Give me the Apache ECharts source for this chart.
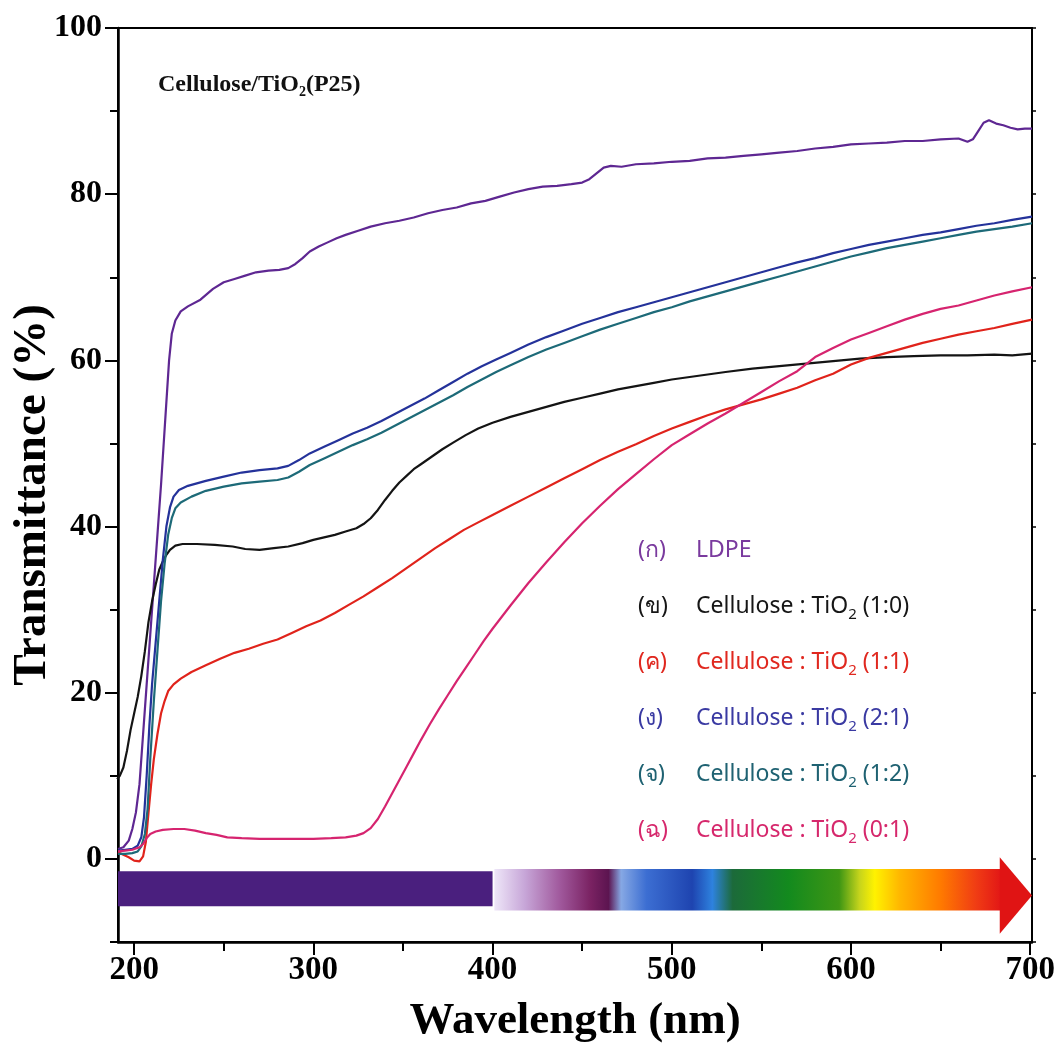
<!DOCTYPE html>
<html>
<head>
<meta charset="utf-8">
<title>UV-Vis transmittance — Cellulose/TiO2 (P25)</title>
<script src="https://cdn.jsdelivr.net/npm/echarts@6/dist/echarts.min.js"></script>
<style>
  html, body { margin: 0; padding: 0; background: #ffffff; }
  #chart { width: 1059px; height: 1046px; }
</style>
</head>
<body>
<div id="chart"></div>
<script>
// ---- Transmittance spectra: [wavelength (nm), transmittance (%)] ----
const ldpe = [
  [191,1.2],[194,1.4],[197,2.2],[199,3.6],[201,5.6],[203,9],[205,15],[207,21],[209,27],[211,33],
  [213,39],[215,45],[216.5,50],[218,55],[219.5,60],[221,63.2],[223,64.8],[226,65.9],[230,66.5],
  [237,67.3],[244,68.6],[250,69.4],[256,69.8],[262,70.2],[268,70.6],[275,70.8],[281,70.9],[286,71.1],
  [290,71.6],[294,72.3],[298,73.1],[303,73.7],[308,74.2],[313,74.7],[318,75.1],[325,75.6],[332,76.1],
  [340,76.5],[348,76.8],[356,77.2],[364,77.7],[372,78.1],[380,78.4],[388,78.9],[396,79.2],[404,79.7],
  [412,80.2],[420,80.6],[428,80.9],[436,81.0],[444,81.2],[450,81.4],[454,81.8],[458,82.5],[462,83.2],
  [466,83.4],[472,83.3],[480,83.6],[490,83.7],[500,83.9],[510,84.0],[520,84.3],[530,84.4],[540,84.6],
  [550,84.8],[560,85.0],[570,85.2],[580,85.5],[590,85.7],[600,86.0],[610,86.1],[620,86.2],[630,86.4],
  [640,86.4],[650,86.6],[660,86.7],[665,86.3],[668,86.6],[671,87.6],[674,88.6],[677,88.9],[681,88.5],
  [685,88.3],[689,88.0],[693,87.8],[697,87.9],[701,87.9]
];

const cel10 = [
  [190.5,9.6],[192,10],[194,11],[196,13],[198,15.5],[200,17.5],[202,19.5],[204,22],[206,25],[208,28.5],
  [210,31],[212,33],[214,34.8],[216,35.8],[218,36.6],[220,37.2],[223,37.7],[227,37.9],[235,37.9],
  [245,37.8],[255,37.6],[262,37.3],[270,37.2],[278,37.4],[286,37.6],[294,38],[300,38.4],[306,38.7],
  [312,39],[318,39.4],[324,39.8],[328,40.3],[332,41],[336,42],[340,43.2],[344,44.3],[348,45.3],
  [352,46.1],[356,46.9],[360,47.5],[366,48.4],[372,49.3],[378,50.1],[385,51],[392,51.8],[400,52.5],
  [410,53.2],[420,53.8],[430,54.4],[440,55],[450,55.5],[460,56],[470,56.5],[480,56.9],[490,57.3],
  [500,57.7],[510,58],[520,58.3],[530,58.6],[545,59],[560,59.3],[575,59.6],[590,59.9],[605,60.2],
  [620,60.4],[635,60.5],[650,60.6],[665,60.6],[680,60.7],[690,60.6],[701,60.8]
];

const cel11 = [
  [191,0.8],[194,0.5],[197,0.2],[200,-0.2],[203,-0.3],[205,0.3],[206.5,2],[208,5.5],[209.5,9],[211,12],
  [213,15],[215,17.5],[217,19],[219,20.2],[222,21],[226,21.7],[232,22.5],[240,23.3],[248,24.1],
  [256,24.8],[264,25.3],[272,25.9],[280,26.4],[288,27.2],[296,28],[304,28.7],[312,29.6],[320,30.6],
  [328,31.6],[336,32.7],[344,33.8],[352,35],[360,36.2],[368,37.4],[376,38.5],[384,39.6],[392,40.5],
  [400,41.4],[410,42.5],[420,43.6],[430,44.7],[440,45.8],[450,46.9],[460,48],[470,49],[480,49.9],
  [490,50.9],[500,51.8],[510,52.6],[520,53.4],[530,54.1],[540,54.7],[550,55.3],[560,56],[570,56.7],
  [580,57.6],[590,58.4],[600,59.5],[610,60.3],[620,60.9],[630,61.5],[640,62.1],[650,62.6],[660,63.1],
  [670,63.5],[680,63.9],[690,64.4],[701,64.9]
];

const cel21 = [
  [191,1],[195,1.1],[199,1.2],[202,1.6],[204,2.6],[205.5,5],[207,10],[208.5,16],[210,21],[212,26],
  [214,31],[216,36],[218,40],[220,42.3],[222,43.6],[225,44.4],[230,44.9],[240,45.5],[250,46],[260,46.5],
  [270,46.8],[280,47],[286,47.3],[292,48],[298,48.8],[306,49.6],[314,50.4],[322,51.2],[330,51.9],
  [338,52.7],[346,53.6],[354,54.5],[362,55.4],[370,56.4],[378,57.4],[386,58.4],[394,59.3],[402,60.1],
  [410,60.9],[420,61.9],[430,62.8],[440,63.6],[450,64.4],[460,65.1],[470,65.8],[480,66.4],[490,67],
  [500,67.6],[510,68.2],[520,68.8],[530,69.4],[540,70],[550,70.6],[560,71.2],[570,71.8],[580,72.3],
  [590,72.9],[600,73.4],[610,73.9],[620,74.3],[630,74.7],[640,75.1],[650,75.4],[660,75.8],[670,76.2],
  [680,76.5],[690,76.9],[701,77.3]
];

const cel12 = [
  [191,0.6],[195,0.6],[199,0.7],[202,0.9],[204,1.5],[206,3],[207.5,6],[209,12],[211,19],[213,25],
  [215,31],[217,35.5],[219,39],[221,41],[223,42.2],[226,42.9],[232,43.6],[240,44.3],[250,44.8],
  [260,45.2],[270,45.4],[280,45.6],[286,45.9],[292,46.6],[298,47.4],[306,48.2],[314,49],[322,49.8],
  [330,50.5],[338,51.3],[346,52.2],[354,53.1],[362,54],[370,54.9],[378,55.8],[386,56.8],[394,57.7],
  [402,58.6],[410,59.4],[420,60.4],[430,61.3],[440,62.1],[450,62.9],[460,63.7],[470,64.4],[480,65.1],
  [490,65.8],[500,66.4],[510,67.1],[520,67.7],[530,68.3],[540,68.9],[550,69.5],[560,70.1],[570,70.7],
  [580,71.3],[590,71.9],[600,72.5],[610,73],[620,73.5],[630,73.9],[640,74.3],[650,74.7],[660,75.1],
  [670,75.5],[680,75.8],[690,76.1],[701,76.5]
];

const cel01 = [
  [191,0.9],[195,1],[199,1.1],[203,1.4],[205,1.8],[207,2.5],[209,3],[212,3.3],[216,3.5],[222,3.6],
  [228,3.6],[234,3.4],[240,3.1],[246,2.9],[252,2.6],[260,2.5],[270,2.4],[280,2.4],[290,2.4],[300,2.4],
  [310,2.5],[318,2.6],[324,2.8],[328,3.1],[332,3.7],[336,4.8],[340,6.3],[344,7.9],[348,9.5],[352,11.1],
  [356,12.7],[360,14.3],[365,16.2],[370,18],[375,19.7],[380,21.4],[385,23],[390,24.6],[395,26.2],
  [400,27.7],[410,30.5],[420,33.2],[430,35.7],[440,38.1],[450,40.4],[460,42.5],[470,44.5],[480,46.3],
  [490,48.1],[500,49.8],[510,51.1],[520,52.4],[530,53.6],[540,54.9],[550,56.2],[560,57.5],[570,58.7],
  [580,60.4],[590,61.5],[600,62.5],[610,63.3],[620,64.1],[630,64.9],[640,65.6],[650,66.2],[660,66.6],
  [670,67.2],[680,67.8],[690,68.3],[701,68.8]
];

// ---- Series names, legend markers and colours ----
const seriesNames = [
  'LDPE',
  'Cellulose : TiO2 (1:0)',
  'Cellulose : TiO2 (1:1)',
  'Cellulose : TiO2 (2:1)',
  'Cellulose : TiO2 (1:2)',
  'Cellulose : TiO2 (0:1)'
];
const legendMarks = ['(ก)', '(ข)', '(ค)', '(ง)', '(จ)', '(ฉ)'];
const seriesData = [ldpe, cel10, cel11, cel21, cel12, cel01];
const lineColors = ['#5e2792', '#141414', '#e0231b', '#24329a', '#1d6a78', '#d6246f'];
const legendColors = ['#7a3a9e', '#161616', '#e0281f', '#3a3aa2', '#1f6272', '#d6286c'];

// ---- Axis ticks and labels ----
const xMajorTicks = [200, 300, 400, 500, 600, 700];
const xMinorTicks = [250, 350, 450, 550, 650];
const yMajorTicks = [0, 20, 40, 60, 80, 100];
const yMinorTicks = [-10, 10, 30, 50, 70, 90];

// ---- Light-spectrum band under the curves (UV block, visible gradient, arrow) ----
const uvBand = { from: 191, to: 400, top: -1.5, bottom: -5.7 };
const visBand = { from: 401, to: 684, top: -1.2, bottom: -6.2 };
const arrowHead = { from: 683, tip: 701, top: 0.2, bottom: -9.0 };
const visStops = [
  [0.00, '#eee6f8'], [0.06, '#c7a6d8'], [0.13, '#a0589c'], [0.19, '#7a2262'],
  [0.225, '#5c1450'], [0.25, '#86a8e4'], [0.30, '#3c6ed2'], [0.39, '#1e44b0'],
  [0.43, '#2e82de'], [0.47, '#1c6a3a'], [0.58, '#138a1e'], [0.68, '#3e9614'],
  [0.72, '#c6d41c'], [0.75, '#fff200'], [0.80, '#ffb600'], [0.88, '#ff7a00'],
  [0.95, '#f03c14'], [1.00, '#e21616']
];

const serif = '"Liberation Serif", "Times New Roman", serif';
const sans = '"Noto Sans", "DejaVu Sans", sans-serif';

const chart = echarts.init(document.getElementById('chart'), null, { renderer: 'canvas' });

function spectrumBand(params, api) {
  const p = (x, y) => api.coord([x, y]);
  const g0 = p(visBand.from, 0), g1 = p(visBand.to, 0);
  const fill = new echarts.graphic.LinearGradient(
    g0[0], 0, g1[0], 0,
    visStops.map(s => ({ offset: s[0], color: s[1] })), true
  );
  return {
    type: 'group',
    children: [
      { type: 'polygon', shape: { points: [p(uvBand.from, uvBand.top), p(uvBand.to, uvBand.top), p(uvBand.to, uvBand.bottom), p(uvBand.from, uvBand.bottom)] },
        style: { fill: '#4a1f7e' } },
      { type: 'polygon', shape: { points: [p(visBand.from, visBand.top), p(visBand.to, visBand.top), p(visBand.to, visBand.bottom), p(visBand.from, visBand.bottom)] },
        style: { fill: fill } },
      { type: 'polygon', shape: { points: [p(arrowHead.from, arrowHead.top), p(arrowHead.tip, (arrowHead.top + arrowHead.bottom) / 2), p(arrowHead.from, arrowHead.bottom)] },
        style: { fill: '#e01414' } }
    ]
  };
}

const lineSeries = seriesNames.map((name, i) => ({
  name: name,
  type: 'line',
  data: seriesData[i],
  showSymbol: false,
  symbol: 'none',
  smooth: false,
  lineStyle: { color: lineColors[i], width: 2.2 },
  itemStyle: { color: lineColors[i] },
  z: 3,
  animation: false
}));

const option = {
  backgroundColor: '#ffffff',
  animation: false,
  title: {
    text: 'Cellulose/TiO{s|2}(P25)',
    left: 153,
    top: 66,
    textStyle: {
      fontFamily: serif, fontWeight: 'bold', fontSize: 24, color: '#111', lineHeight: 28,
      rich: { s: { fontFamily: serif, fontWeight: 'bold', fontSize: 14, lineHeight: 14, verticalAlign: 'bottom', color: '#111' } }
    }
  },
  legend: {
    orient: 'vertical',
    left: 628,
    top: 530,
    itemWidth: 0,
    itemHeight: 0,
    itemGap: 25,
    icon: 'rect',
    selectedMode: false,
    data: seriesNames.map((n, i) => ({ name: n, textStyle: { color: legendColors[i] } })),
    formatter: function (name) {
      const i = seriesNames.indexOf(name);
      return '{m|' + legendMarks[i] + '}' + name.replace('TiO2', 'TiO{s|2}');
    },
    textStyle: {
      fontFamily: sans, fontSize: 23, lineHeight: 31,
      rich: {
        m: { fontFamily: sans, fontSize: 23, width: 58 },
        s: { fontFamily: sans, fontSize: 15, lineHeight: 15, verticalAlign: 'bottom' }
      }
    }
  },
  grid: {
    left: 118, right: 27, top: 28, bottom: 104,
    outerBoundsMode: 'none',
    containLabel: false,
    show: true, borderColor: '#000', borderWidth: 2, backgroundColor: 'transparent'
  },
  xAxis: [
    {
      type: 'value', min: 191, max: 701, position: 'bottom',
      name: 'Wavelength (nm)', nameLocation: 'middle', nameGap: 57,
      nameTextStyle: { fontFamily: serif, fontWeight: 'bold', fontSize: 45, color: '#000' },
      axisLine: { show: true, onZero: false, lineStyle: { color: '#000', width: 2.5 } },
      axisTick: { show: true, customValues: xMajorTicks, length: 13, lineStyle: { color: '#000', width: 2 } },
      axisLabel: { show: true, customValues: xMajorTicks, margin: 12, fontFamily: serif, fontWeight: 'bold', fontSize: 33, color: '#000' },
      splitLine: { show: false }
    },
    {
      type: 'value', min: 191, max: 701, position: 'bottom',
      axisLine: { show: false, onZero: false },
      axisTick: { show: true, customValues: xMinorTicks, length: 9, lineStyle: { color: '#000', width: 2 } },
      axisLabel: { show: false },
      splitLine: { show: false }
    }
  ],
  yAxis: [
    {
      type: 'value', min: -10, max: 100, position: 'left',
      name: 'Transmittance (%)', nameLocation: 'middle', nameGap: 62, nameRotate: 90,
      nameMoveOverlap: false,
      nameTextStyle: { fontFamily: serif, fontWeight: 'bold', fontSize: 47, color: '#000', padding: [0, 20, 0, 0] },
      axisLine: { show: true, onZero: false, lineStyle: { color: '#000', width: 2.5 } },
      axisTick: { show: true, customValues: yMajorTicks, length: 13, lineStyle: { color: '#000', width: 2 } },
      axisLabel: { show: true, customValues: yMajorTicks, margin: 16, fontFamily: serif, fontWeight: 'bold', fontSize: 32, color: '#000' },
      splitLine: { show: false }
    },
    {
      type: 'value', min: -10, max: 100, position: 'left',
      axisLine: { show: false, onZero: false },
      axisTick: { show: true, customValues: yMinorTicks, length: 8, lineStyle: { color: '#000', width: 2 } },
      axisLabel: { show: false },
      splitLine: { show: false }
    },
    {
      type: 'value', min: -10, max: 100, interval: 10, position: 'right',
      axisLine: { show: false, onZero: false },
      axisTick: { show: true, length: 4, lineStyle: { color: '#000', width: 1.5 } },
      axisLabel: { show: false },
      splitLine: { show: false }
    }
  ],
  series: [
    {
      type: 'custom',
      name: 'spectrum',
      coordinateSystem: 'cartesian2d',
      xAxisIndex: 0, yAxisIndex: 0,
      data: [[uvBand.from, uvBand.top]],
      renderItem: spectrumBand,
      silent: true,
      clip: false,
      z: 1
    }
  ].concat(lineSeries)
};

chart.setOption(option);
</script>
</body>
</html>
